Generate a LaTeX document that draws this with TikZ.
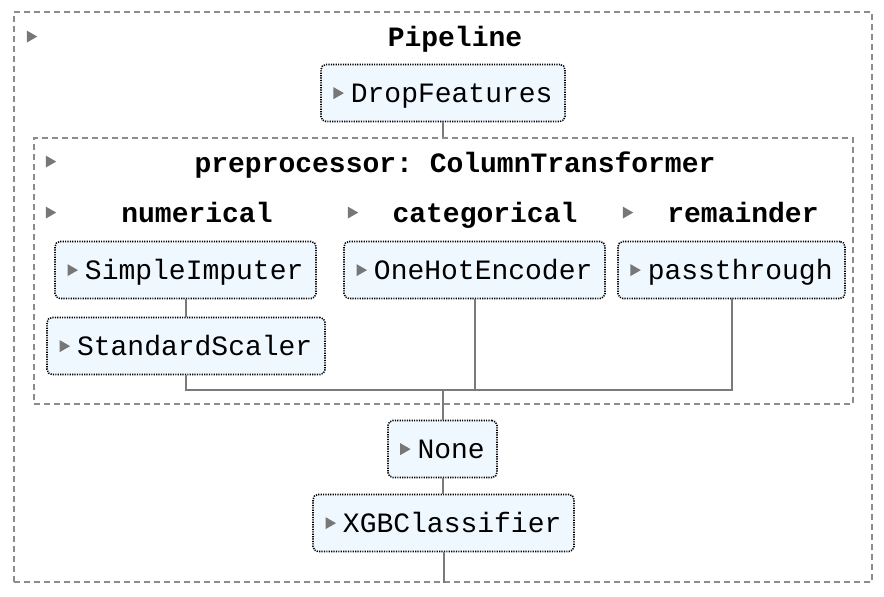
\documentclass[tikz,border=0pt]{standalone}
\usepackage{fontspec}
\setmonofont{Liberation Mono}
\definecolor{boxfill}{HTML}{F0F8FF}
\definecolor{dashgray}{HTML}{8C8C8C}
\definecolor{linegray}{HTML}{7A7A7A}
\definecolor{trigray}{HTML}{777777}
\newcommand{\tri}{\tikz[baseline=-0.6ex]\fill[trigray, solid, sharp corners] (0,-3pt)--(5.2pt,0)--(0,3pt)--cycle;}
\newcommand{\etri}{\tri\hspace{3.5pt}}
\begin{document}
\begin{tikzpicture}[x=0.5pt,y=-0.5pt,
  every node/.style={font=\ttfamily\fontsize{14pt}{16pt}\selectfont},
  est/.style={draw=black, fill=boxfill, rounded corners=2.5pt, line width=0.8pt,
    dash pattern=on 0.6pt off 0.6pt, minimum height=28.5pt, inner sep=0pt, align=center,
    text height=10.5pt, text depth=1.5pt},
  cont/.style={draw=dashgray, line width=0.8pt, dash pattern=on 3pt off 2pt, inner sep=0pt},
  head/.style={font=\ttfamily\bfseries\fontsize{14pt}{16pt}\selectfont, inner sep=0pt,
    text height=9pt, text depth=3pt},
  trinode/.style={inner sep=0pt},
  conn/.style={draw=linegray, line width=1pt}
]
\useasboundingbox (0,0) rectangle (884,596);
% containers
\node[cont, minimum width=429pt, minimum height=285pt] (outer) at (443,297) {};
\node[cont, minimum width=409.5pt, minimum height=133pt] (ct) at (443.5,271) {};
% headers
\node[trinode] (t0) at (32,38) {\tri};
\node[head] (hpipe) at (455,40) {Pipeline};
\node[trinode] (t1) at (51,163) {\tri};
\node[head] (hct) at (455,166) {preprocessor: ColumnTransformer};
\node[trinode] (t2) at (51,214) {\tri};
\node[head] (hnum) at (197,216) {numerical};
\node[trinode] (t3) at (353,214) {\tri};
\node[head] (hcat) at (485,216) {categorical};
\node[trinode] (t4) at (628,214) {\tri};
\node[head] (hrem) at (743,216) {remainder};
% estimators
\node[est, minimum width=122pt] (drop) at (443,93) {\etri DropFeatures};
\node[est, minimum width=130.5pt] (imp) at (185.5,270) {\etri SimpleImputer};
\node[est, minimum width=139pt] (std) at (186,346) {\etri StandardScaler};
\node[est, minimum width=130.5pt] (ohe) at (474.5,270) {\etri OneHotEncoder};
\node[est, minimum width=113.5pt] (pass) at (731.5,270) {\etri passthrough};
\node[est, minimum width=54.5pt] (none) at (442.5,449) {\etri None};
\node[est, minimum width=130.5pt] (xgb) at (443.5,523) {\etri XGBClassifier};
\coordinate (j) at (443,390);
% connectors
\draw[conn] (drop.south) -- (drop.south |- ct.north);
\draw[conn] (imp.south) -- (imp.south |- std.north);
\draw[conn] (std.south) |- (j) -| (pass.south);
\draw[conn] (ohe.south) -- (ohe.south |- j);
\draw[conn] (j) -- (j |- none.north);
\draw[conn] (none.south) -- (none.south |- xgb.north);
\draw[conn] (xgb.south) -- (xgb.south |- outer.south);
\end{tikzpicture}
\end{document}
